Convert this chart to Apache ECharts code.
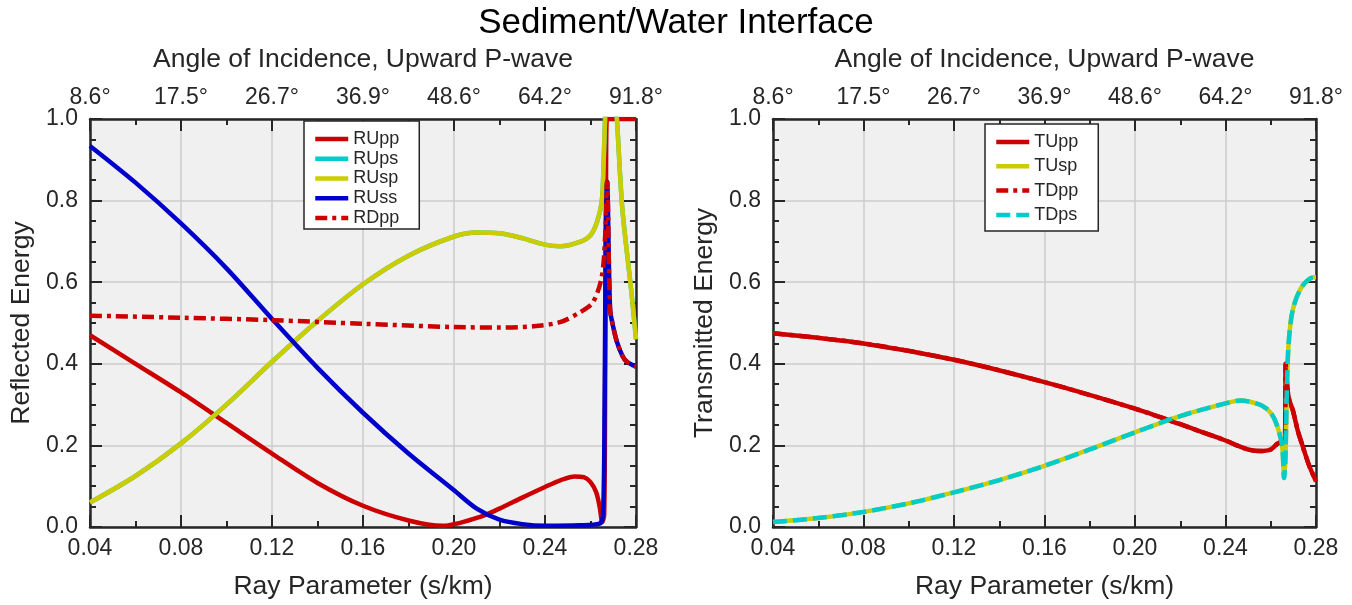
<!DOCTYPE html>
<html><head><meta charset="utf-8">
<script src="https://cdn.jsdelivr.net/npm/echarts@6/dist/echarts.min.js"></script>
<style>html,body{margin:0;padding:0;background:#fff}#c{width:1352px;height:605px}</style>
</head><body><div id="c"></div>
<script>
// ---- tick labels ----
const pTicks = [0.04, 0.08, 0.12, 0.16, 0.20, 0.24, 0.28];
const angleLabels = ['8.6°', '17.5°', '26.7°', '36.9°', '48.6°', '64.2°', '91.8°'];
const leftNames = ['RUpp', 'RUps', 'RUsp', 'RUss', 'RDpp'];
const rightNames = ['TUpp', 'TUsp', 'TDpp', 'TDps'];

// ---- reflected energy: [ray parameter, energy] ----
const rUpp = [[0.04,0.47],[0.06,0.40],[0.08,0.33],[0.10,0.255],[0.12,0.18],[0.14,0.108],[0.16,0.052],[0.18,0.016],[0.195,0.003],[0.2115,0.025],[0.22,0.045],[0.23,0.072],[0.24,0.098],[0.247,0.115],[0.253,0.124],[0.257,0.122],[0.260,0.11],[0.2625,0.085],[0.264,0.05],[0.2652,0.012],[0.2660,0.03],[0.2664,0.3],[0.2668,0.8],[0.2672,1.0],[0.2700,1.0],[0.28,1.0]];
const rUsp = [[0.04,0.06],[0.06,0.125],[0.08,0.205],[0.10,0.30],[0.12,0.405],[0.14,0.505],[0.16,0.595],[0.18,0.665],[0.20,0.712],[0.21,0.722],[0.22,0.72],[0.23,0.708],[0.24,0.692],[0.2466,0.688],[0.255,0.698],[0.26,0.715],[0.263,0.75],[0.265,0.80],[0.2658,0.9],[0.2664,1.0],[0.2672,1.15],[0.2695,1.15],[0.2716,1.0],[0.274,0.78],[0.278,0.575],[0.28,0.46]];
const rUps = [[0.04,0.06],[0.06,0.125],[0.08,0.205],[0.10,0.30],[0.12,0.405],[0.14,0.505],[0.16,0.595],[0.18,0.665],[0.20,0.712],[0.21,0.722],[0.22,0.72],[0.23,0.708],[0.24,0.692],[0.2466,0.688],[0.255,0.698],[0.26,0.715],[0.263,0.75],[0.265,0.80],[0.2658,0.9],[0.2664,1.0],[0.2672,1.15],[0.2695,1.15],[0.2716,1.0],[0.274,0.78],[0.278,0.575],[0.28,0.46]];
const rUss = [[0.04,0.934],[0.06,0.844],[0.08,0.744],[0.10,0.634],[0.12,0.51],[0.14,0.39],[0.16,0.28],[0.18,0.18],[0.20,0.09],[0.21,0.045],[0.22,0.018],[0.23,0.007],[0.24,0.003],[0.255,0.004],[0.264,0.008],[0.2655,0.03],[0.2662,0.3],[0.2667,0.7],[0.2673,0.846],[0.2686,0.534],[0.2700,0.49],[0.2716,0.454],[0.274,0.42],[0.276,0.405],[0.28,0.393]];
const rDpp = [[0.04,0.518],[0.08,0.513],[0.12,0.507],[0.16,0.498],[0.20,0.49],[0.22,0.489],[0.235,0.492],[0.2466,0.502],[0.255,0.525],[0.261,0.55],[0.265,0.615],[0.2665,0.72],[0.2673,0.846],[0.2686,0.534],[0.2700,0.49],[0.2716,0.454],[0.274,0.42],[0.276,0.405],[0.28,0.393]];

// ---- transmitted energy ----
const tUpp = [[0.04,0.475],[0.08,0.45],[0.12,0.41],[0.16,0.355],[0.20,0.29],[0.22,0.252],[0.23,0.232],[0.24,0.212],[0.245,0.2],[0.25,0.19],[0.255,0.186],[0.26,0.19],[0.2627,0.203],[0.2655,0.212],[0.2663,0.22],[0.2666,0.40],[0.2672,0.35],[0.268,0.315],[0.2698,0.285],[0.272,0.235],[0.2743,0.195],[0.277,0.15],[0.28,0.112]];
const tUsp = [[0.04,0.012],[0.06,0.022],[0.08,0.037],[0.10,0.058],[0.12,0.085],[0.14,0.115],[0.16,0.15],[0.18,0.19],[0.20,0.232],[0.22,0.272],[0.24,0.303],[0.2466,0.31],[0.25,0.308],[0.256,0.298],[0.26,0.28],[0.2627,0.25],[0.265,0.2],[0.2659,0.12],[0.2665,0.17],[0.2671,0.33],[0.2679,0.45],[0.2698,0.534],[0.2739,0.59],[0.279,0.612],[0.28,0.612]];
const tDpp = [[0.04,0.475],[0.08,0.45],[0.12,0.41],[0.16,0.355],[0.20,0.29],[0.22,0.252],[0.23,0.232],[0.24,0.212],[0.245,0.2],[0.25,0.19],[0.255,0.186],[0.26,0.19],[0.2627,0.203],[0.2655,0.212],[0.2663,0.22],[0.2666,0.40],[0.2672,0.35],[0.268,0.315],[0.2698,0.285],[0.272,0.235],[0.2743,0.195],[0.277,0.15],[0.28,0.112]];
const tDps = [[0.04,0.012],[0.06,0.022],[0.08,0.037],[0.10,0.058],[0.12,0.085],[0.14,0.115],[0.16,0.15],[0.18,0.19],[0.20,0.232],[0.22,0.272],[0.24,0.303],[0.2466,0.31],[0.25,0.308],[0.256,0.298],[0.26,0.28],[0.2627,0.25],[0.265,0.2],[0.2659,0.12],[0.2665,0.17],[0.2671,0.33],[0.2679,0.45],[0.2698,0.534],[0.2739,0.59],[0.279,0.612],[0.28,0.612]];

const FONT = '"Liberation Sans", Arial, Helvetica, sans-serif';
const INK = '#262626';
const RED = '#cc0000', CYAN = '#00cccc', YEL = '#cccc00', BLUE = '#0000cc';
const LW = 4.5;

function xPair(g) {
  const common = {
    gridIndex: g, type: 'value', min: pTicks[0], max: pTicks[pTicks.length - 1], interval: 0.04,
    nameLocation: 'middle', nameTextStyle: {fontSize: 26.5, color: INK, fontFamily: FONT},
    axisLine: {show: true, onZero: false, lineStyle: {color: INK, width: 2.5}},
    axisTick: {show: true, inside: true, length: 12, lineStyle: {color: INK, width: 2}},
    minorTick: {show: true, splitNumber: 2, length: 6, lineStyle: {color: INK, width: 2}},
    minorSplitLine: {show: false}
  };
  return [
    Object.assign({}, common, {position: 'bottom', name: 'Ray Parameter (s/km)', nameGap: 46,
      axisLabel: {margin: 10, fontSize: 23, color: INK, fontFamily: FONT, formatter: v => v.toFixed(2)},
      splitLine: {show: true, lineStyle: {color: '#cdcdcd', width: 1.5}}}),
    Object.assign({}, common, {position: 'top', name: 'Angle of Incidence, Upward P-wave', nameGap: 46,
      axisLabel: {margin: 10, fontSize: 23, color: INK, fontFamily: FONT,
        formatter: v => angleLabels[Math.round((v - pTicks[0]) / 0.04)]},
      splitLine: {show: false}})
  ];
}
function yPair(g, name) {
  const common = {
    gridIndex: g, type: 'value', min: 0, max: 1, interval: 0.2,
    axisLine: {show: true, onZero: false, lineStyle: {color: INK, width: 2.5}},
    axisTick: {show: true, inside: true, length: 12, lineStyle: {color: INK, width: 2}},
    minorTick: {show: true, splitNumber: 4, length: 6, lineStyle: {color: INK, width: 2}},
    minorSplitLine: {show: false}
  };
  return [
    Object.assign({}, common, {position: 'left', name: name, nameLocation: 'middle', nameGap: 55,
      nameTextStyle: {fontSize: 26.5, color: INK, fontFamily: FONT},
      axisLabel: {margin: 12, fontSize: 23, color: INK, fontFamily: FONT, formatter: v => v.toFixed(1)},
      splitLine: {show: true, lineStyle: {color: '#cdcdcd', width: 1.5}}}),
    Object.assign({}, common, {position: 'right', axisLabel: {show: false}, splitLine: {show: false}})
  ];
}
function ser(name, data, color, xi, yi, dash) {
  return {name, type: 'line', xAxisIndex: xi, yAxisIndex: yi, data, symbol: 'none', showSymbol: false,
    smooth: 0.3, clip: true,
    lineStyle: {color, width: LW, type: dash || 'solid', cap: 'butt', join: 'round'},
    itemStyle: {color}, emphasis: {disabled: true}};
}
const legendCommon = {
  orient: 'vertical', itemWidth: 33, itemHeight: 16, itemTextGap: 7,
  backgroundColor: '#fff', borderColor: INK, borderWidth: 1.5, borderRadius: 0,
  itemStyle: {opacity: 0},
  lineStyle: {width: LW},
  textStyle: {fontSize: 18, color: INK, fontFamily: FONT}
};

const chart = echarts.init(document.getElementById('c'), null, {renderer: 'canvas'});
chart.setOption({
  animation: false,
  backgroundColor: '#fff',
  title: {text: 'Sediment/Water Interface', left: 'center', top: 1,
    textStyle: {fontSize: 35, fontWeight: 'normal', color: '#000', fontFamily: FONT}},
  grid: [
    {left: 90, top: 119, width: 546, height: 410, show: true, backgroundColor: '#f0f0f0', borderWidth: 0},
    {left: 773, top: 119, width: 543, height: 410, show: true, backgroundColor: '#f0f0f0', borderWidth: 0}
  ],
  xAxis: [...xPair(0), ...xPair(1)],
  yAxis: [...yPair(0, 'Reflected Energy'), ...yPair(1, 'Transmitted Energy')],
  legend: [
    Object.assign({}, legendCommon, {data: leftNames, left: 304, top: 121, padding: [9, 20, 2, 9], itemGap: 1.75}),
    Object.assign({}, legendCommon, {data: rightNames, left: 985, top: 124, padding: [9, 20, 7, 9], itemGap: 6.3})
  ],
  series: [
    ser('RUpp', rUpp, RED, 0, 0),
    ser('RUps', rUps, CYAN, 0, 0),
    ser('RUsp', rUsp, YEL, 0, 0),
    ser('RUss', rUss, BLUE, 0, 0),
    ser('RDpp', rDpp, RED, 0, 0, [12, 5, 4, 5]),
    ser('TUpp', tUpp, RED, 2, 2),
    ser('TUsp', tUsp, YEL, 2, 2),
    ser('TDpp', tDpp, RED, 2, 2, [12, 5, 4, 5]),
    ser('TDps', tDps, CYAN, 2, 2, [14, 6])
  ]
});
</script></body></html>
